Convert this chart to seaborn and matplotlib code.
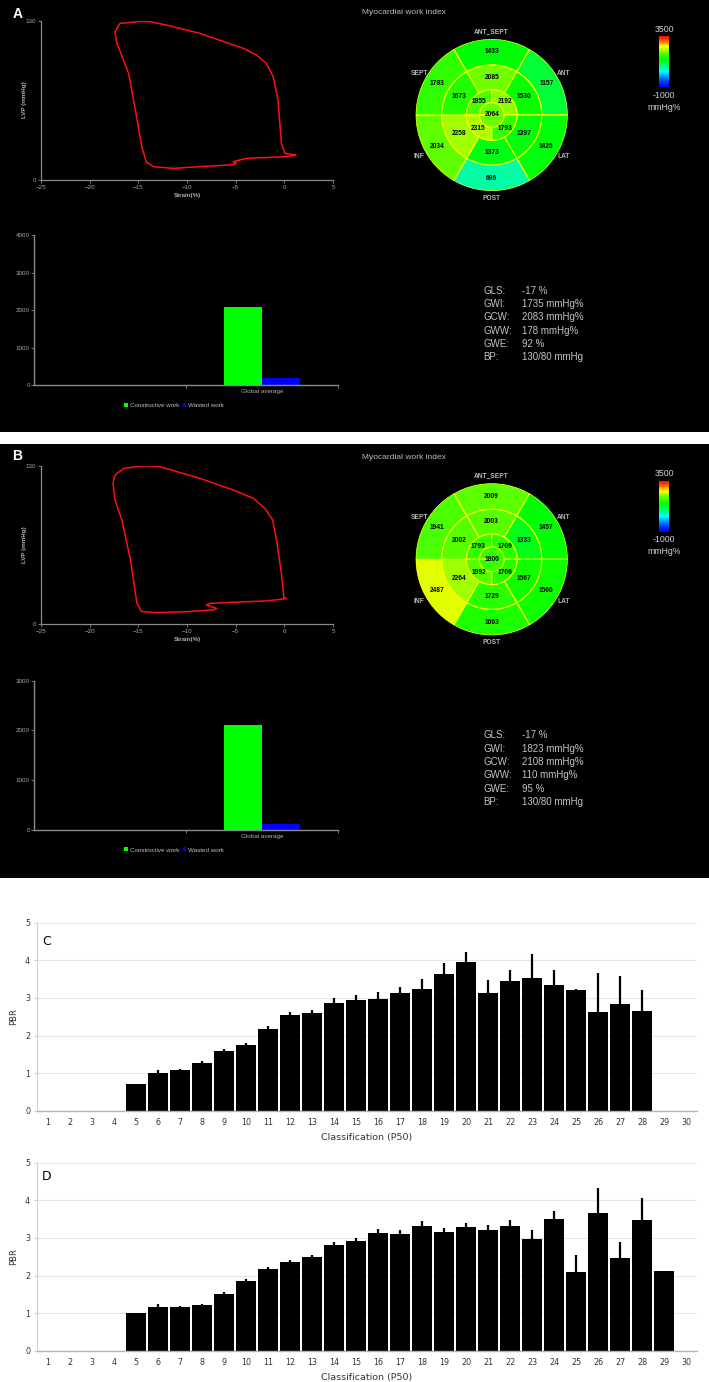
import matplotlib
matplotlib.use("Agg")
import matplotlib.pyplot as plt
import seaborn as sns
import numpy as np
import pandas as pd
from matplotlib.colors import LinearSegmentedColormap, Normalize
from matplotlib.cm import ScalarMappable
from matplotlib.patches import Rectangle, Patch
from matplotlib import font_manager as fm

# ---------------- data ----------------
# Pressure-strain loops (strain %, LV pressure mmHg)
pv_a_strain = [-14.8, -16.9, -17.4, -17.2, -16.0, -15.3, -14.65, -14.2, -13.45, -11.4, -8.7, -5.6,
               -4.9, -5.25, -3.9, 0.2, 1.2, 0.05, -0.3, -0.65, -1.15, -1.85, -2.85, -4.2, -8.7,
               -12.1, -13.8, -14.8]
pv_a_lvp = [129.7, 128.0, 121.0, 111.7, 87.2, 57.2, 27.3, 15.0, 10.9, 9.5, 10.9, 12.3,
            13.6, 15.0, 17.7, 19.1, 20.4, 21.8, 30.0, 65.4, 84.5, 95.4, 102.2, 107.6, 119.9,
            126.7, 129.4, 129.7]
pv_b_strain = [-14.8, -16.5, -17.4, -17.6, -17.4, -16.7, -15.8, -15.15, -14.65, -13.1, -10.0, -7.3,
               -6.95, -8.0, -7.65, -5.25, -1.85, 0.2, -0.05, -0.3, -0.8, -1.2, -2.0, -3.2, -5.25,
               -8.7, -12.8, -14.1, -14.8]
pv_b_lvp = [130.0, 128.0, 122.6, 115.8, 102.0, 85.7, 52.8, 17.2, 10.4, 9.6, 10.4, 11.8,
            13.1, 15.9, 17.2, 18.1, 19.2, 21.1, 22.2, 41.9, 69.2, 85.7, 95.2, 103.5, 110.3,
            119.9, 129.5, 130.0, 130.0]

# Bull's-eye (17 segment) myocardial work index
ring_names = ["ANT_SEPT", "ANT", "LAT", "POST", "INF", "SEPT"]
basal_a = [1433, 1157, 1425, 696, 2034, 1783]
mid_a = [2085, 1530, 1397, 1373, 2258, 1673]
apical_a = [1955, 2192, 1793, 2315]
apex_a = 2064
basal_b = [2009, 1457, 1566, 1663, 2487, 1941]
mid_b = [2003, 1333, 1567, 1729, 2264, 2002]
apical_b = [1793, 1709, 1706, 1992]
apex_b = 1800

# Global work bars
work_types = ["Constructive work", "Wasted work"]
work_a = [2083, 178]
work_b = [2108, 110]

# Global indices text
stat_keys = ["GLS:", "GWI:", "GCW:", "GWW:", "GWE:", "BP:"]
stats_a = ["-17 %", "1735 mmHg%", "2083 mmHg%", "178 mmHg%", "92 %", "130/80 mmHg"]
stats_b = ["-17 %", "1823 mmHg%", "2108 mmHg%", "110 mmHg%", "95 %", "130/80 mmHg"]

# PBR by classification
classes = [str(i) for i in range(1, 31)]
pbr_c = [0, 0, 0, 0, 0.70, 0.99, 1.07, 1.28, 1.60, 1.74, 2.18, 2.54, 2.59, 2.86, 2.95, 2.96,
         3.13, 3.25, 3.64, 3.95, 3.14, 3.45, 3.54, 3.34, 3.21, 2.63, 2.85, 2.65, 0, 0]
err_c = [0, 0, 0, 0, 0.01, 0.08, 0.05, 0.03, 0.04, 0.06, 0.07, 0.08, 0.10, 0.14, 0.14, 0.19,
         0.17, 0.25, 0.30, 0.28, 0.33, 0.30, 0.63, 0.41, 0.03, 1.02, 0.74, 0.56, 0, 0]
pbr_d = [0, 0, 0, 0, 0.99, 1.15, 1.15, 1.21, 1.51, 1.85, 2.16, 2.35, 2.48, 2.80, 2.91, 3.13,
         3.10, 3.32, 3.15, 3.28, 3.22, 3.31, 2.96, 3.51, 2.10, 3.65, 2.46, 3.48, 2.13, 0]
err_d = [0, 0, 0, 0, 0.02, 0.08, 0.05, 0.04, 0.04, 0.06, 0.07, 0.07, 0.06, 0.09, 0.08, 0.11,
         0.12, 0.13, 0.12, 0.11, 0.11, 0.17, 0.24, 0.21, 0.44, 0.69, 0.43, 0.59, 0, 0]

# ---------------- styling ----------------
plt.rcParams["font.family"] = ["Liberation Sans", "DejaVu Sans"]
names = {f.name for f in fm.fontManager.ttflist}
NARROW = "Liberation Sans Narrow" if "Liberation Sans Narrow" in names else "DejaVu Sans"

W, H = 709, 1382
fig = plt.figure(figsize=(W / 100, H / 100), dpi=100)
fig.patch.set_facecolor("white")


def box(x0, y0, x1, y1):
    return [x0 / W, 1 - y1 / H, (x1 - x0) / W, (y1 - y0) / H]


def fx(x):
    return x / W


def fy(y):
    return 1 - y / H


GRAY_TXT = "#c4c4c4"
AX_GRAY = "#8a8a8a"

# black panel backgrounds
fig.add_artist(Rectangle((0, fy(432)), 1, 432 / H, transform=fig.transFigure,
                         facecolor="black", edgecolor="none", zorder=-5))
fig.add_artist(Rectangle((0, fy(878)), 1, (878 - 444) / H, transform=fig.transFigure,
                         facecolor="black", edgecolor="none", zorder=-5))

cmap = LinearSegmentedColormap.from_list(
    "mwi", [(0.0, (0, 0, 1)), (0.1, (0, 0.2, 1)), (0.3, (0, 1, 1)), (0.45, (0, 1, 0.3)),
            (0.55, (0, 1, 0)), (0.66, (0.3, 1, 0)), (0.8, (1, 1, 0)), (0.9, (1, 0.4, 0)),
            (1.0, (1, 0, 0))])
norm = Normalize(-1000, 3500)


def pv_panel(y_top, y_bot, strain, lvp, letter, letter_y):
    ax = fig.add_axes(box(41, y_top, 333, y_bot))
    df = pd.DataFrame({"strain": strain, "lvp": lvp})
    sns.lineplot(data=df, x="strain", y="lvp", sort=False, estimator=None,
                 color="#ff1010", lw=1.1, ax=ax)
    ax.set_xlim(-25, 5)
    ax.set_ylim(0, 130)
    ax.set_xticks([-25, -20, -15, -10, -5, 0, 5])
    ax.set_yticks([0, 130])
    ax.set_facecolor("none")
    for s in ["top", "right"]:
        ax.spines[s].set_visible(False)
    for s in ["left", "bottom"]:
        ax.spines[s].set_color(AX_GRAY)
        ax.spines[s].set_linewidth(0.9)
    ax.tick_params(color=AX_GRAY, labelcolor="#a8a8a8", labelsize=4.5, length=2,
                   width=0.6, pad=1.5)
    ax.set_xlabel("")
    ax.set_ylabel("")
    fig.text(fx(24), fy((y_top + y_bot) / 2 - 0.5), "LVP (mmHg)", rotation=90,
             ha="center", va="center", color="#b0b0b0", fontsize=4.5, fontweight="bold")
    fig.text(fx(187), fy(y_bot + 15.5), "Strain(%)", ha="center", va="center",
             color="#b0b0b0", fontsize=4.5, fontweight="bold")
    fig.text(fx(12.5), fy(letter_y), letter, ha="left", va="center", color="white",
             fontsize=10, fontweight="bold")


def bullseye(cy, basal, mid, apical, apex, title_y):
    cx, R = 491.7, 76
    ax = fig.add_axes(box(cx - R, cy - R, cx + R, cy + R), projection="polar")
    ax.set_ylim(0, 1)
    r_apex, r_api, r_mid = 0.162, 0.333, 0.658
    ring_ang = [90, 30, -30, -90, -150, 150]
    api_ang = [135, 45, -45, -135]
    ec = "#ffff00"
    lw = 0.8
    for ang, v in zip(ring_ang, basal):
        ax.bar(np.deg2rad(ang), 1 - r_mid, width=np.deg2rad(60), bottom=r_mid,
               color=cmap(norm(v)), edgecolor=ec, linewidth=lw)
        ax.text(np.deg2rad(ang), (1 + r_mid) / 2, str(v), ha="center", va="center",
                fontsize=4.8, fontweight="bold", color="black")
    for ang, v in zip(ring_ang, mid):
        ax.bar(np.deg2rad(ang), r_mid - r_api, width=np.deg2rad(60), bottom=r_api,
               color=cmap(norm(v)), edgecolor=ec, linewidth=lw)
        ax.text(np.deg2rad(ang), (r_mid + r_api) / 2, str(v), ha="center", va="center",
                fontsize=4.8, fontweight="bold", color="black")
    for ang, v in zip(api_ang, apical):
        ax.bar(np.deg2rad(ang), r_api - r_apex, width=np.deg2rad(90), bottom=r_apex,
               color=cmap(norm(v)), edgecolor=ec, linewidth=lw)
        ax.text(np.deg2rad(ang), 0.245, str(v), ha="center", va="center",
                fontsize=4.8, fontweight="bold", color="black")
    ax.bar(0, r_apex, width=2 * np.pi, bottom=0, color=cmap(norm(apex)),
           edgecolor=ec, linewidth=lw)
    ax.text(0, 0, str(apex), ha="center", va="center", fontsize=4.8,
            fontweight="bold", color="black")
    for ang, name in zip(ring_ang, ring_names):
        ax.text(np.deg2rad(ang), 1.1, name, ha="center", va="center", fontsize=4.8,
                fontweight="bold", color="#b8b8b8", clip_on=False)
    ax.set_axis_off()

    fig.text(fx(361.5), fy(title_y), "Myocardial work index", ha="left", va="center",
             color="#bdbdbd", fontsize=6)
    top = title_y + 23
    cax = fig.add_axes(box(659, top, 669, top + 51))
    cb = fig.colorbar(ScalarMappable(norm=norm, cmap=cmap), cax=cax)
    cb.set_ticks([])
    cb.outline.set_visible(False)
    fig.text(fx(664), fy(top - 7), "3500", ha="center", va="center", color="#d0d0d0",
             fontsize=6.3)
    fig.text(fx(664), fy(top + 59), "-1000", ha="center", va="center", color="#d0d0d0",
             fontsize=6.3)
    fig.text(fx(664), fy(top + 71), "mmHg%", ha="center", va="center", color="#d0d0d0",
             fontsize=6.3)


def work_panel(y_top, y_bot, ymax, values, legend_y, stats, stats_y):
    ax = fig.add_axes(box(34, y_top, 338, y_bot))
    df = pd.DataFrame({"cat": ["Global average"] * 2, "type": work_types, "val": values})
    pal = {"Constructive work": "#00ff00", "Wasted work": "#0000ff"}
    sns.barplot(data=df, x="cat", y="val", hue="type", order=[" ", "Global average"],
                hue_order=work_types, palette=pal, width=0.5, saturation=1,
                linewidth=0, ax=ax, legend=False)
    ax.set_xlim(-0.5, 1.5)
    ax.set_ylim(0, ymax)
    ax.set_yticks(np.arange(0, ymax + 1, 1000))
    ax.set_xticks([1])
    ax.set_xticklabels(["Global average"])
    ax.set_xticks([0.5, 1.5], minor=True)
    ax.set_facecolor("none")
    ax.set_xlabel("")
    ax.set_ylabel("")
    for s in ["top", "right"]:
        ax.spines[s].set_visible(False)
    for s in ["left", "bottom"]:
        ax.spines[s].set_color(AX_GRAY)
        ax.spines[s].set_linewidth(1.0)
    ax.tick_params(axis="y", color=AX_GRAY, labelcolor="#a8a8a8", labelsize=4.5,
                   length=2, width=0.6, pad=1)
    ax.tick_params(axis="x", which="major", length=0, labelcolor="#b0b0b0",
                   labelsize=4.5, pad=3)
    ax.tick_params(axis="x", which="minor", length=2, color=AX_GRAY, width=0.6)
    handles = [Patch(facecolor=pal[t], edgecolor="none", label=t) for t in work_types]
    ax.legend(handles=handles, loc="center", ncol=2, frameon=False,
              bbox_to_anchor=((174 - 34) / 304, -(legend_y - y_bot) / (y_bot - y_top)),
              fontsize=4.5, labelcolor="#c0c0c0", handlelength=0.6, handleheight=0.6,
              handletextpad=0.3, columnspacing=0.6, borderaxespad=0)
    for i, (k, v) in enumerate(zip(stat_keys, stats)):
        y = stats_y + i * 13.33
        fig.text(fx(483), fy(y), k, ha="left", va="center", color=GRAY_TXT, fontsize=7)
        fig.text(fx(522), fy(y), v, ha="left", va="center", color=GRAY_TXT, fontsize=7)


def pbr_panel(y_top, y_bot, pbr, err, letter, letter_frac_y):
    ax = fig.add_axes(box(37, y_top, 697, y_bot))
    ax.set_axisbelow(True)
    ax.grid(axis="y", color="#e6e6e6", linewidth=0.8)
    sns.barplot(x=classes, y=pbr, color="black", saturation=1, width=0.9,
                linewidth=0, ax=ax, zorder=2)
    e = np.array(err)
    p = np.array(pbr)
    idx = np.where(e > 0)[0]
    ax.errorbar(idx, p[idx], yerr=[np.zeros(len(idx)), e[idx]], fmt="none",
                ecolor="black", elinewidth=1.6, capsize=0, zorder=3)
    ax.set_xlim(-0.5, 29.5)
    ax.set_ylim(0, 5)
    ax.set_yticks(range(0, 6))
    for s in ["top", "right"]:
        ax.spines[s].set_visible(False)
    ax.spines["left"].set_color("#cfcfcf")
    ax.spines["bottom"].set_color("#b5b5b5")
    ax.spines["bottom"].set_linewidth(1.0)
    ax.tick_params(axis="x", length=0, pad=5, labelsize=5.8, labelcolor="#333333")
    ax.tick_params(axis="y", length=2, color="#cfcfcf", pad=3, labelsize=5.8,
                   labelcolor="#333333")
    for lab in ax.get_xticklabels() + ax.get_yticklabels():
        lab.set_fontfamily(NARROW)
    ax.set_xlabel("")
    ax.set_ylabel("")
    ax.text(0.5, -0.14, "Classification (P50)", transform=ax.transAxes, ha="center",
            va="center", fontsize=6.8, color="#333333", fontfamily=NARROW)
    ax.text(-0.036, 0.5, "PBR", transform=ax.transAxes, rotation=90, ha="center",
            va="center", fontsize=6, color="#333333", fontfamily=NARROW)
    ax.text(0.015, letter_frac_y, letter, transform=ax.transAxes, ha="center",
            va="center", fontsize=9, color="black", fontfamily=NARROW)


# Panel A
pv_panel(21, 180, pv_a_strain, pv_a_lvp, "A", 14)
bullseye(115, basal_a, mid_a, apical_a, apex_a, 13)
work_panel(235.4, 385, 4000, work_a, 405.7, stats_a, 290.7)

# Panel B
pv_panel(466, 624.3, pv_b_strain, pv_b_lvp, "B", 455.5)
bullseye(559.3, basal_b, mid_b, apical_b, apex_b, 457.7)
work_panel(680.7, 829.7, 3000, work_b, 850, stats_b, 735.3)

# Panels C and D
pbr_panel(922.7, 1110.7, pbr_c, err_c, "C", 0.90)
pbr_panel(1162.7, 1350.7, pbr_d, err_d, "D", 0.924)

fig.savefig("out.png", dpi=100, facecolor="white")
